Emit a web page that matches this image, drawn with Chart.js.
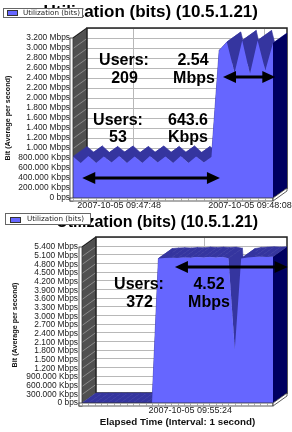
<!DOCTYPE html>
<html lang="en">
<head>
<meta charset="UTF-8">
<title>Utilization (bits) (10.5.1.21)</title>
<script src="https://cdn.jsdelivr.net/npm/chart.js@4.4.1/dist/chart.umd.min.js"></script>
<style>
    body { margin: 0; background: #fff; }
    #page { position: relative; width: 292px; height: 432px; overflow: hidden; font-family: "Liberation Sans", Arial, sans-serif; }
    .box { position: absolute; left: 0; width: 292px; }
    .box canvas { display: block; }
    .title { position: absolute; right: 34px; white-space: nowrap; font-weight: bold; color: #000; }
    .legend { position: absolute; box-sizing: border-box; border: 1px solid #666; background: #fff; font: 7.2px/8px "DejaVu Sans", sans-serif; color: #222; white-space: nowrap; }
    .legend i { position: absolute; box-sizing: border-box; border: 1px solid #333; background: #6666ff; }
    .legend span { position: absolute; }
    .note { position: absolute; transform: translateX(-50%); font: bold 16px/16px "Liberation Sans", Arial, sans-serif; color: #000; white-space: nowrap; }
</style>
</head>
<body>
<div id="page">
    <div class="box" style="top:0;height:210px"><canvas id="topChart" width="292" height="210"></canvas></div>
    <div class="box" style="top:210px;height:222px"><canvas id="bottomChart" width="292" height="222"></canvas></div>

    <div class="title" style="top:2.6px;font-size:17px;line-height:17px">Utilization (bits) (10.5.1.21)</div>
    <div class="legend" style="left:3px;top:8px;width:80px;height:10px"><i style="left:3px;top:1px;width:11px;height:6px"></i><span style="left:19px;top:0">Utilization (bits)</span></div>
    <div class="title" style="top:213.5px;font-size:16px;line-height:16px">Utilization (bits) (10.5.1.21)</div>
    <div class="legend" style="left:5px;top:213px;width:86px;height:12px"><i style="left:4px;top:3px;width:11px;height:6px"></i><span style="left:21px;top:1px">Utilization (bits)</span></div>

    <div class="note" style="left:124px;top:51.5px">Users:</div>
    <div class="note" style="left:124.5px;top:69.5px">209</div>
    <div class="note" style="left:193px;top:51.5px">2.54</div>
    <div class="note" style="left:194px;top:69.5px">Mbps</div>
    <div class="note" style="left:118px;top:111.5px">Users:</div>
    <div class="note" style="left:118px;top:128.5px">53</div>
    <div class="note" style="left:188px;top:111.5px">643.6</div>
    <div class="note" style="left:188px;top:128.5px">Kbps</div>

    <div class="note" style="left:139px;top:275.5px">Users:</div>
    <div class="note" style="left:139.5px;top:293.5px">372</div>
    <div class="note" style="left:209px;top:275.5px">4.52</div>
    <div class="note" style="left:209px;top:293.5px">Mbps</div>
</div>
<script>
    // values in Mbps, one point per sample
    const topLabels = ['', '', '', '', '', '', '2007-10-05 09:47:48', '', '', '', '', '', '', '', '', '', '', '', '', '', '', '', '', '2007-10-05 09:48:08', '', '', ''];
    const topUtil = [0.83, 0.70, 0.84, 0.70, 0.83, 0.71, 0.84, 0.70, 0.83, 0.70, 0.84, 0.71, 0.83, 0.70, 0.84, 0.70, 0.83, 0.71, 0.82,
        2.95, 3.12, 2.50, 3.15, 2.48, 3.15, 2.55, 3.10];
    const topMax = 3.2, topStep = 0.2;

    const bottomLabels = ['', '', '', '', '', '', '', '', '', '', '', '', '', '', '', '', '', '2007-10-05 09:55:24', '', '', '', '', '', '', '', '', '', '', '', '', ''];
    const bottomUtil = [0, 0, 0, 0, 0, 0, 0, 0, 0, 0, 0, 0,
        5.00, 5.02, 5.03, 5.02, 5.04, 5.03, 5.05, 5.04, 5.05, 5.04, 5.05, 5.01, 1.85, 5.00, 5.04, 5.05, 5.06, 5.05, 5.06];
    const bottomMax = 5.4, bottomStep = 0.3;

    // annotation arrows, in [sample index, Mbps]
    const topArrows = [{from: [1.2, 0.40], to: [19.1, 0.40]}, {from: [19.5, 2.42], to: [26.3, 2.42]}];
    const bottomArrows = [{from: [14.6, 4.71], to: [32.3, 4.71]}];

    Chart.defaults.font.family = '"Liberation Sans", Arial, sans-serif';

    function fmtBits(v) {
        if (v === 0) return '0 bps';
        if (v < 0.9999) return (v * 1000).toFixed(3) + ' Kbps';
        return v.toFixed(3) + ' Mbps';
    }

    function poly(ctx, pts) {
        ctx.beginPath();
        ctx.moveTo(pts[0][0], pts[0][1]);
        for (let i = 1; i < pts.length; i++) ctx.lineTo(pts[i][0], pts[i][1]);
        ctx.closePath();
    }

    function seg(ctx, x1, y1, x2, y2) {
        ctx.beginPath();
        ctx.moveTo(x1, y1);
        ctx.lineTo(x2, y2);
        ctx.stroke();
    }

    // fake 3d box: walls + top/side of the area, then base strips and arrows
    const box3d = {
        id: 'box3d',
        beforeDatasetsDraw(chart, args, o) {
            const ctx = chart.ctx, a = chart.chartArea, xs = chart.scales.x, ys = chart.scales.y;
            const dx = o.dx, dy = o.dy;
            ctx.save();
            // side wall
            ctx.fillStyle = '#505050';
            poly(ctx, [[a.left, a.top], [a.left + dx, a.top + dy], [a.left + dx, a.bottom + dy], [a.left, a.bottom]]);
            ctx.fill();
            // back wall
            ctx.fillStyle = '#fff';
            ctx.fillRect(a.left + dx, a.top + dy, a.right - a.left, a.bottom - a.top);
            ctx.lineWidth = 1;
            ys.ticks.forEach(t => {
                const y = Math.round(ys.getPixelForValue(t.value)) + 0.5;
                ctx.strokeStyle = '#b8b8b8';
                seg(ctx, a.left + dx, y + dy, a.right + dx, y + dy);
                ctx.strokeStyle = '#8a8a8a';
                seg(ctx, a.left, y, a.left + dx, y + dy);
            });
            ctx.strokeStyle = '#b8b8b8';
            xs.ticks.forEach((t, i) => {
                if (!t.label) return;
                const x = Math.round(xs.getPixelForTick(i)) + dx + 0.5;
                seg(ctx, x, a.top + dy, x, a.bottom + dy);
            });
            ctx.strokeStyle = '#222';
            ctx.lineWidth = 1.5;
            ctx.strokeRect(a.left + dx, a.top + dy, a.right - a.left, a.bottom - a.top);
            seg(ctx, a.left, a.top, a.left + dx, a.top + dy);

            // top surface of the area
            const pts = chart.getDatasetMeta(0).data;
            const base = ys.getPixelForValue(0);
            ctx.fillStyle = o.topColor;
            ctx.strokeStyle = o.topColor;
            ctx.lineWidth = 0.6;
            for (let i = 0; i < pts.length - 1; i++) {
                const p = pts[i], q = pts[i + 1];
                poly(ctx, [[p.x, p.y], [q.x, q.y], [q.x + dx, q.y + dy], [p.x + dx, p.y + dy]]);
                ctx.fill();
                ctx.stroke();
            }
            // right end of the area
            const l = pts[pts.length - 1];
            ctx.fillStyle = o.sideColor;
            poly(ctx, [[l.x, l.y], [l.x, base], [l.x + dx, base + dy], [l.x + dx, l.y + dy]]);
            ctx.fill();
            ctx.restore();
        },
        afterDatasetsDraw(chart, args, o) {
            const ctx = chart.ctx, a = chart.chartArea, xs = chart.scales.x, ys = chart.scales.y;
            const dx = o.dx, dy = o.dy;
            ctx.save();
            ctx.lineWidth = 0.8;
            ctx.strokeStyle = '#333';
            ctx.fillStyle = '#fff';
            // left and bottom base strips
            ctx.fillRect(a.left - 3, a.top, 3, a.bottom - a.top + 3);
            ctx.strokeRect(a.left - 3, a.top, 3, a.bottom - a.top + 3);
            ctx.fillRect(a.left - 3, a.bottom, a.right - a.left + 3, 3);
            ctx.strokeRect(a.left - 3, a.bottom, a.right - a.left + 3, 3);
            poly(ctx, [[a.right, a.bottom], [a.right + dx, a.bottom + dy], [a.right + dx, a.bottom + dy + 3], [a.right, a.bottom + 3]]);
            ctx.fill();
            ctx.stroke();
            ctx.strokeStyle = '#888';
            ctx.lineWidth = 0.7;
            xs.ticks.forEach((t, i) => {
                const x = Math.round(xs.getPixelForTick(i)) + 0.5;
                seg(ctx, x, a.bottom + 0.5, x, a.bottom + 2.5);
            });
            // arrows
            ctx.fillStyle = '#000';
            ctx.strokeStyle = '#000';
            ctx.lineWidth = 3;
            const h = 13, w = 6;
            o.arrows.forEach(ar => {
                const x1 = xs.getPixelForValue(ar.from[0]), x2 = xs.getPixelForValue(ar.to[0]);
                const y = ys.getPixelForValue(ar.from[1]);
                seg(ctx, x1 + h - 2, y, x2 - h + 2, y);
                poly(ctx, [[x1, y], [x1 + h, y - w], [x1 + h, y + w]]);
                ctx.fill();
                poly(ctx, [[x2, y], [x2 - h, y - w], [x2 - h, y + w]]);
                ctx.fill();
            });
            ctx.restore();
        }
    };

    function makeChart(id, labels, values, o) {
        return new Chart(document.getElementById(id), {
            type: 'line',
            data: {
                labels: labels,
                datasets: [{
                    label: 'Utilization (bits)',
                    data: values,
                    fill: 'origin',
                    backgroundColor: '#6666ff',
                    borderColor: 'rgba(0,0,0,0)',
                    borderWidth: 0,
                    pointRadius: 0,
                    tension: 0
                }]
            },
            options: {
                responsive: false,
                animation: false,
                events: [],
                layout: {padding: {top: o.padTop, right: 19, left: 0, bottom: 0}},
                plugins: {
                    legend: {display: false},
                    tooltip: {enabled: false},
                    box3d: {dx: 14, dy: -10, arrows: o.arrows, topColor: '#35359f', sideColor: '#000060'}
                },
                scales: {
                    x: {
                        grid: {display: false, drawTicks: false},
                        border: {display: false},
                        ticks: {autoSkip: false, maxRotation: 0, minRotation: 0, padding: 2, color: '#222', font: {size: 9}},
                        title: o.xTitle
                            ? {display: true, text: o.xTitle, color: '#111', font: {size: 9.8, weight: 'bold'}, padding: {top: 0, bottom: 4}}
                            : {display: false},
                        afterFit: s => { s.height = o.xHeight; }
                    },
                    y: {
                        min: 0,
                        max: o.max,
                        grid: {display: false, drawTicks: false},
                        border: {display: false},
                        ticks: {stepSize: o.step, autoSkip: false, padding: o.tickPad, color: '#222', font: {size: 8.4}, callback: fmtBits},
                        title: {display: true, text: 'Bit (Average per second)', color: '#111', font: {size: 7.2, weight: 'bold'}, padding: {top: o.yTitlePad, bottom: 0}},
                        afterFit: s => { s.width = o.yWidth; }
                    }
                }
            },
            plugins: [box3d]
        });
    }

    makeChart('topChart', topLabels, topUtil, {
        max: topMax, step: topStep, padTop: 38, xHeight: 12, yWidth: 73, tickPad: 3, yTitlePad: 4, arrows: topArrows
    });
    makeChart('bottomChart', bottomLabels, bottomUtil, {
        max: bottomMax, step: bottomStep, padTop: 37, xHeight: 29, yWidth: 82, tickPad: 4, yTitlePad: 10.7,
        arrows: bottomArrows, xTitle: 'Elapsed Time (Interval: 1 second)'
    });
</script>
</body>
</html>
